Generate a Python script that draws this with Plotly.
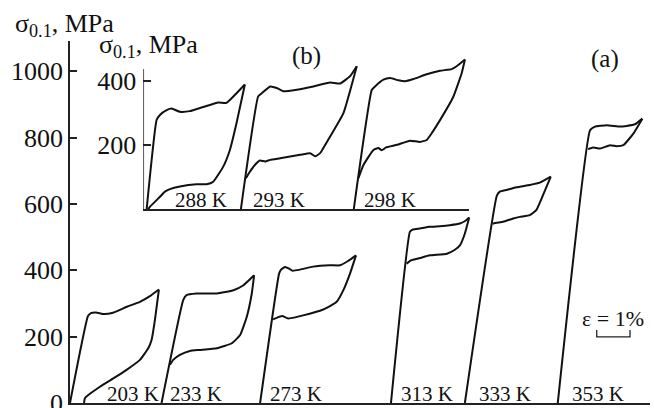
import plotly.graph_objects as go

# ---------------- data (strain %, stress MPa) ----------------
# main panel (a)
T203_load_x = [0.00, 0.54, 0.63, 0.78, 1.02, 1.29, 1.71, 2.10, 2.40, 2.67]
T203_load_y = [0, 262, 271, 273, 268, 272, 290, 305, 322, 342]
T203_unl_x = [2.67, 2.55, 2.45, 2.35, 2.10, 1.70, 1.30, 0.90, 0.55, 0.45, 0.42]
T203_unl_y = [342, 250, 190, 165, 130, 100, 74, 49, 24, 15, 0]

T233_load_x = [2.75, 3.40, 3.50, 3.80, 4.41, 4.91, 5.21, 5.53]
T233_load_y = [0, 310, 325, 330, 330, 340, 355, 385]
T233_unl_x = [5.53, 5.46, 5.31, 5.11, 4.86, 4.41, 3.90, 3.60, 3.30, 3.10, 3.00]
T233_unl_y = [385, 330, 260, 205, 180, 165, 160, 157, 145, 130, 115]

T273_load_x = [5.71, 6.28, 6.34, 6.46, 6.58, 6.67, 6.91, 7.30, 7.81, 8.11, 8.35, 8.59]
T273_load_y = [0, 390, 402, 410, 405, 399, 402, 411, 415, 415, 428, 445]
T273_unl_x = [8.59, 8.41, 8.21, 8.01, 7.81, 7.51, 7.00, 6.76, 6.55, 6.37, 6.10]
T273_unl_y = [445, 390, 340, 305, 292, 278, 264, 258, 255, 262, 252]

T313_load_x = [9.64, 10.21, 10.30, 10.51, 10.81, 11.11, 11.41, 11.71, 11.89, 11.99]
T313_load_y = [0, 516, 523, 526, 531, 533, 536, 541, 550, 559]
T313_unl_x = [11.99, 11.86, 11.71, 11.56, 11.32, 10.81, 10.51, 10.24, 10.11]
T313_unl_y = [559, 511, 475, 462, 450, 445, 437, 430, 420]

T333_load_x = [11.86, 12.82, 12.91, 13.11, 13.41, 13.81, 14.11, 14.44]
T333_load_y = [0, 625, 637, 642, 650, 657, 664, 682]
T333_unl_x = [14.44, 14.21, 14.01, 13.81, 13.51, 13.31, 13.01, 12.81, 12.69]
T333_unl_y = [682, 627, 582, 566, 561, 556, 546, 543, 540]

T353_load_x = [14.65, 15.62, 15.77, 16.12, 16.52, 16.72, 16.97, 17.19]
T353_load_y = [0, 822, 833, 837, 833, 835, 840, 857]
T353_unl_x = [17.19, 16.92, 16.62, 16.42, 16.22, 15.92, 15.71, 15.56]
T353_unl_y = [857, 812, 777, 774, 777, 767, 770, 765]

# inset panel (b)
T288_load_x = [0.10, 0.40, 0.50, 0.70, 0.85, 1.10, 1.40, 1.80, 2.25, 2.50, 2.80, 3.05]
T288_load_y = [0, 279, 294, 309, 314, 304, 306, 319, 333, 332, 362, 389]
T288_unl_x = [3.05, 2.80, 2.60, 2.40, 2.10, 1.90, 1.60, 1.10, 0.80, 0.65, 0.50, 0.20, 0.15]
T288_unl_y = [389, 269, 185, 133, 86, 78, 78, 71, 63, 55, 39, 8, 0]

T293_load_x = [2.93, 3.45, 3.56, 3.81, 4.01, 4.20, 4.61, 5.11, 5.61, 5.91, 6.21, 6.41]
T293_load_y = [0, 352, 362, 383, 378, 368, 373, 383, 395, 392, 415, 446]
T293_unl_x = [6.41, 6.01, 5.61, 5.31, 5.16, 5.01, 4.71, 4.11, 3.81, 3.66, 3.50, 3.35, 3.20, 3.08]
T293_unl_y = [446, 300, 227, 175, 165, 175, 170, 159, 154, 149, 152, 138, 117, 97]

T298_load_x = [6.32, 6.86, 6.96, 7.21, 7.41, 7.66, 7.86, 8.11, 8.51, 8.91, 9.26, 9.41, 9.66]
T298_load_y = [0, 372, 383, 404, 409, 402, 399, 406, 421, 432, 437, 446, 467]
T298_unl_x = [9.66, 9.56, 9.31, 8.91, 8.66, 8.51, 8.31, 8.01, 7.62, 7.29, 7.16, 7.06, 6.91, 6.61, 6.46]
T298_unl_y = [467, 424, 351, 278, 237, 216, 210, 214, 201, 193, 184, 191, 185, 138, 97]

MAIN_LABELS = ["203 K", "233 K", "273 K", "313 K", "333 K", "353 K"]
MAIN_LABEL_X = [1.89, 3.78, 6.79, 10.71, 13.06, 15.86]
INSET_LABELS = ["288 K", "293 K", "298 K"]
INSET_LABEL_X = [1.73, 4.08, 7.40]
LABEL_Y_MAIN = 27
LABEL_Y_INSET = 29

MAIN_TICKS = [0, 200, 400, 600, 800, 1000]
INSET_TICKS = [200, 400]

SCALE_X0 = 15.82
SCALE_LEN = 1.0  # 1 % strain

FONT = "Liberation Serif, Times New Roman, serif"

fig = go.Figure()

main_sets = [
    (T203_load_x, T203_load_y, T203_unl_x, T203_unl_y),
    (T233_load_x, T233_load_y, T233_unl_x, T233_unl_y),
    (T273_load_x, T273_load_y, T273_unl_x, T273_unl_y),
    (T313_load_x, T313_load_y, T313_unl_x, T313_unl_y),
    (T333_load_x, T333_load_y, T333_unl_x, T333_unl_y),
    (T353_load_x, T353_load_y, T353_unl_x, T353_unl_y),
]
inset_sets = [
    (T288_load_x, T288_load_y, T288_unl_x, T288_unl_y),
    (T293_load_x, T293_load_y, T293_unl_x, T293_unl_y),
    (T298_load_x, T298_load_y, T298_unl_x, T298_unl_y),
]

line_style = dict(color="#111", width=2, shape="spline", smoothing=0.4)

for lx, ly, ux, uy in main_sets:
    fig.add_trace(go.Scatter(x=lx, y=ly, mode="lines", line=line_style,
                             xaxis="x", yaxis="y", hoverinfo="skip"))
    fig.add_trace(go.Scatter(x=ux, y=uy, mode="lines", line=line_style,
                             xaxis="x", yaxis="y", hoverinfo="skip"))
for lx, ly, ux, uy in inset_sets:
    fig.add_trace(go.Scatter(x=lx, y=ly, mode="lines", line=line_style,
                             xaxis="x2", yaxis="y2", hoverinfo="skip"))
    fig.add_trace(go.Scatter(x=ux, y=uy, mode="lines", line=line_style,
                             xaxis="x2", yaxis="y2", hoverinfo="skip"))

tickfont = dict(family=FONT, size=26, color="#111")

fig.update_layout(
    width=654, height=408,
    margin=dict(l=70, r=4, t=41, b=5, autoexpand=False),
    paper_bgcolor="white", plot_bgcolor="rgba(0,0,0,0)",
    showlegend=False,
    xaxis=dict(domain=[0, 1], range=[0, 17.42], showline=True, linecolor="#222",
               linewidth=1.5, showticklabels=False, ticks="", showgrid=False,
               zeroline=False, fixedrange=True),
    yaxis=dict(domain=[0, 1], range=[0, 1091], showline=True, linecolor="#222",
               linewidth=1.5, ticks="inside", ticklen=7, tickwidth=1.5, tickcolor="#222",
               tickvals=MAIN_TICKS, tickfont=tickfont, showgrid=False,
               zeroline=False, fixedrange=True, ticklabelstandoff=0,
               ticklabeloverflow="allow"),
    xaxis2=dict(domain=[0.1264, 0.6879], range=[0, 9.78], anchor="y2", showline=True,
                linecolor="#222", linewidth=1.5, showticklabels=False, ticks="",
                showgrid=False, zeroline=False, fixedrange=True),
    yaxis2=dict(domain=[0.5351, 0.9613], range=[0, 481], anchor="x2", showline=False,
                ticks="inside", ticklen=8, tickwidth=1.5, tickcolor="#222",
                tickvals=INSET_TICKS, tickfont=tickfont, showgrid=False,
                zeroline=False, fixedrange=True, ticklabelstandoff=6),
)

# inset y-axis line (stops below the top of the loops)
fig.add_shape(type="line", xref="x2", yref="y2", x0=0, x1=0, y0=0, y1=437,
              line=dict(color="#222", width=1.5))

# scale bar
fig.add_shape(type="path", xref="x", yref="y",
              path=f"M {SCALE_X0} 220 L {SCALE_X0} 199 L {SCALE_X0 + SCALE_LEN} 199 L {SCALE_X0 + SCALE_LEN} 220",
              line=dict(color="#222", width=1.3))
fig.add_annotation(x=SCALE_X0 + SCALE_LEN / 2, y=256, xref="x", yref="y",
                   text="ε = 1%", showarrow=False, yanchor="middle",
                   font=dict(family=FONT, size=22, color="#111"))

lab_font = dict(family=FONT, size=21, color="#111")
for t, x in zip(MAIN_LABELS, MAIN_LABEL_X):
    fig.add_annotation(x=x, y=LABEL_Y_MAIN, xref="x", yref="y", text=t,
                       showarrow=False, yanchor="middle", font=lab_font)
for t, x in zip(INSET_LABELS, INSET_LABEL_X):
    fig.add_annotation(x=x, y=LABEL_Y_INSET, xref="x2", yref="y2", text=t,
                       showarrow=False, yanchor="middle", font=lab_font)

title_font = dict(family=FONT, size=26, color="#111")
fig.add_annotation(x=-0.0983, y=1.044, xref="paper", yref="paper", xanchor="left",
                   yanchor="middle", text="σ<sub>0.1</sub>, MPa", showarrow=False,
                   font=title_font)
fig.add_annotation(x=0.046, y=0.986, xref="paper", yref="paper", xanchor="left",
                   yanchor="middle", text="σ<sub>0.1</sub>, MPa", showarrow=False,
                   font=title_font)
fig.add_annotation(x=0.408, y=0.9586, xref="paper", yref="paper", text="(b)",
                   xanchor="center", yanchor="middle", showarrow=False,
                   font=dict(family=FONT, size=25, color="#111"))
fig.add_annotation(x=0.922, y=0.950, xref="paper", yref="paper", text="(a)",
                   xanchor="center", yanchor="middle", showarrow=False,
                   font=dict(family=FONT, size=25, color="#111"))

fig.write_html("out.html")
